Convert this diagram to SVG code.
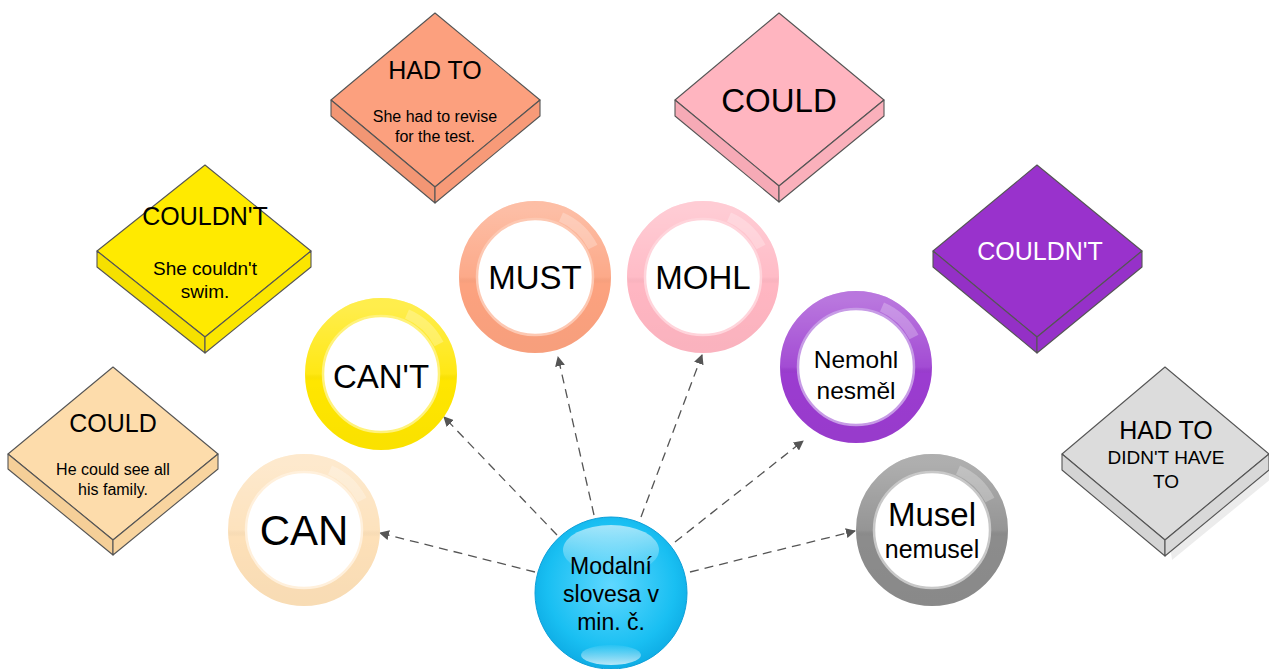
<svg xmlns="http://www.w3.org/2000/svg" width="1269" height="669" viewBox="0 0 1269 669">
<defs>
<style>
.t{font-family:"Liberation Sans",Arial,sans-serif;text-anchor:middle;fill:#000}
.w{fill:#fff}
.edge{stroke:#555;stroke-width:1.1;stroke-linejoin:round}
.conn{stroke:#555;stroke-width:1.3;stroke-dasharray:9 6;fill:none}
.ring{fill:none;stroke-width:18}
.gloss{fill:none;stroke-width:18;stroke:url(#ringGloss)}
.inner{fill:#fff;stroke-width:2.5}
.hl{fill:none;stroke:#fff;stroke-opacity:0.25;stroke-width:10}
</style>
<marker id="arr" viewBox="0 0 10 10" refX="9" refY="5" markerWidth="10" markerHeight="10" markerUnits="userSpaceOnUse" orient="auto">
<path d="M0,0 L10,5 L0,10 z" fill="#555"/>
</marker>
<linearGradient id="ringGloss" x1="0" y1="0" x2="0" y2="1">
<stop offset="0" stop-color="#fff" stop-opacity="0.3"/>
<stop offset="0.5" stop-color="#fff" stop-opacity="0.08"/>
<stop offset="0.55" stop-color="#000" stop-opacity="0"/>
<stop offset="1" stop-color="#000" stop-opacity="0.02"/>
</linearGradient>
<radialGradient id="sphere" cx="0.5" cy="0.45" r="0.6">
<stop offset="0" stop-color="#5fd8ff"/>
<stop offset="0.7" stop-color="#19bff2"/>
<stop offset="1" stop-color="#0aa6e0"/>
</radialGradient>
<linearGradient id="shine" x1="0" y1="0" x2="0" y2="1">
<stop offset="0" stop-color="#fff" stop-opacity="0.6"/>
<stop offset="1" stop-color="#fff" stop-opacity="0.03"/>
</linearGradient>
<linearGradient id="shine2" x1="0" y1="1" x2="0" y2="0">
<stop offset="0" stop-color="#fff" stop-opacity="0.7"/>
<stop offset="1" stop-color="#fff" stop-opacity="0.05"/>
</linearGradient>
</defs>
<rect width="1269" height="669" fill="#fff"/>

<!-- Diamonds -->
<g id="d-could-left">
<polygon class="edge" fill="#fddcab" points="113,367 218,454 113,540 8,454"/>
<polygon class="edge" fill="#f5cf98" points="8,454 113,540 113,555 8,469"/>
<polygon class="edge" fill="#f8d49f" points="113,540 218,454 218,469 113,555"/>
<text class="t" x="113" y="432" font-size="25">COULD</text>
<text class="t" x="113" y="475" font-size="16">He could see all</text>
<text class="t" x="113" y="495" font-size="16">his family.</text>
</g>
<g id="d-couldnt-yellow">
<polygon class="edge" fill="#ffea00" points="205,165 311,251 205,337 97,251"/>
<polygon class="edge" fill="#f5e000" points="97,251 205,337 205,353 97,267"/>
<polygon class="edge" fill="#fbe600" points="205,337 311,251 311,267 205,353"/>
<text class="t" x="205" y="225" font-size="25">COULDN'T</text>
<text class="t" x="205" y="275" font-size="19">She couldn't</text>
<text class="t" x="205" y="298" font-size="19">swim.</text>
</g>
<g id="d-hadto">
<polygon class="edge" fill="#fca07e" points="435,13 540,100 435,187 331,100"/>
<polygon class="edge" fill="#f29674" points="331,100 435,187 435,203 331,116"/>
<polygon class="edge" fill="#f79a78" points="435,187 540,100 540,116 435,203"/>
<text class="t" x="435" y="79" font-size="25">HAD TO</text>
<text class="t" x="435" y="122" font-size="16">She had to revise</text>
<text class="t" x="435" y="142" font-size="16">for the test.</text>
</g>
<g id="d-could-pink">
<polygon class="edge" fill="#ffb5c0" points="779,13 884,100 779,186 675,100"/>
<polygon class="edge" fill="#f6aab6" points="675,100 779,186 779,202 675,116"/>
<polygon class="edge" fill="#fab0bb" points="779,186 884,100 884,116 779,202"/>
<text class="t" x="779" y="112" font-size="33">COULD</text>
</g>
<g id="d-couldnt-purple">
<polygon class="edge" fill="#9932cc" points="1037,165 1142,251 1037,337 933,251"/>
<polygon class="edge" fill="#9430c6" points="933,251 1037,337 1037,353 933,267"/>
<polygon class="edge" fill="#9631c9" points="1037,337 1142,251 1142,267 1037,353"/>
<text class="t w" x="1040" y="260" font-size="25">COULDN'T</text>
</g>
<g id="d-hadto-gray">
<polygon fill="#ececec" points="1170,545 1272,460 1272,478 1172,560"/>
<polygon class="edge" fill="#dcdcdc" points="1165,367 1269,454 1165,540 1062,454"/>
<polygon class="edge" fill="#d4d4d4" points="1062,454 1165,540 1165,556 1062,470"/>
<polygon class="edge" fill="#d8d8d8" points="1165,540 1269,454 1269,470 1165,556"/>
<text class="t" x="1166" y="439" font-size="25">HAD TO</text>
<text class="t" x="1166" y="464" font-size="19">DIDN'T HAVE</text>
<text class="t" x="1166" y="488" font-size="19">TO</text>
</g>

<!-- Connectors -->
<g id="connectors">
<line class="conn" x1="535" y1="572" x2="380" y2="533" marker-end="url(#arr)"/>
<line class="conn" x1="557" y1="535" x2="444" y2="417" marker-end="url(#arr)"/>
<line class="conn" x1="594" y1="515" x2="558" y2="357" marker-end="url(#arr)"/>
<line class="conn" x1="641" y1="517" x2="702" y2="355" marker-end="url(#arr)"/>
<line class="conn" x1="675" y1="542" x2="803" y2="441" marker-end="url(#arr)"/>
<line class="conn" x1="690" y1="572" x2="855" y2="531" marker-end="url(#arr)"/>
</g>

<!-- Ring nodes -->
<g id="n-can">
<circle class="ring" cx="304" cy="530" r="67" stroke="#fde0b8"/>
<circle class="gloss" cx="304" cy="530" r="67"/>
<path class="hl" d="M 330,470 A 65 65 0 0 1 362,500"/>
<circle class="inner" cx="304" cy="530" r="58" stroke="#fff0dc"/>
<text class="t" x="304" y="545" font-size="42">CAN</text>
</g>
<g id="n-cant">
<circle class="ring" cx="381" cy="374" r="67" stroke="#ffe600"/>
<circle class="gloss" cx="381" cy="374" r="67"/>
<path class="hl" d="M 407,314 A 65 65 0 0 1 439,344"/>
<circle class="inner" cx="381" cy="374" r="58" stroke="#fff27a"/>
<text class="t" x="381" y="388" font-size="33">CAN'T</text>
</g>
<g id="n-must">
<circle class="ring" cx="535" cy="277" r="67" stroke="#fca27f"/>
<circle class="gloss" cx="535" cy="277" r="67"/>
<path class="hl" d="M 561,217 A 65 65 0 0 1 593,247"/>
<circle class="inner" cx="535" cy="277" r="58" stroke="#fdc8b2"/>
<text class="t" x="535" y="289" font-size="33">MUST</text>
</g>
<g id="n-mohl">
<circle class="ring" cx="703" cy="277" r="67" stroke="#ffb6c2"/>
<circle class="gloss" cx="703" cy="277" r="67"/>
<path class="hl" d="M 729,217 A 65 65 0 0 1 761,247"/>
<circle class="inner" cx="703" cy="277" r="58" stroke="#ffd4db"/>
<text class="t" x="703" y="289" font-size="33">MOHL</text>
</g>
<g id="n-nemohl">
<circle class="ring" cx="856" cy="367" r="67" stroke="#9b3cd0"/>
<circle class="gloss" cx="856" cy="367" r="67"/>
<path class="hl" d="M 882,307 A 65 65 0 0 1 914,337"/>
<circle class="inner" cx="856" cy="367" r="58" stroke="#c79be6"/>
<text class="t" x="856" y="368" font-size="24.5">Nemohl</text>
<text class="t" x="856" y="399" font-size="24.5">nesměl</text>
</g>
<g id="n-musel">
<circle class="ring" cx="932" cy="530" r="67" stroke="#8c8c8c"/>
<circle class="gloss" cx="932" cy="530" r="67"/>
<path class="hl" d="M 958,470 A 65 65 0 0 1 990,500"/>
<circle class="inner" cx="932" cy="530" r="58" stroke="#c8c8c8"/>
<text class="t" x="932" y="526" font-size="33">Musel</text>
<text class="t" x="932" y="558" font-size="25">nemusel</text>
</g>

<!-- Center node -->
<g id="n-center">
<circle cx="611" cy="593" r="76" fill="url(#sphere)" stroke="#0e9fd8" stroke-width="1"/>
<ellipse cx="611" cy="550" rx="48" ry="25" fill="url(#shine)"/>
<ellipse cx="611" cy="655" rx="30" ry="10" fill="url(#shine2)"/>
<text class="t" x="611" y="574" font-size="23">Modalní</text>
<text class="t" x="611" y="602" font-size="23">slovesa v</text>
<text class="t" x="611" y="630" font-size="23">min. č.</text>
</g>
</svg>
